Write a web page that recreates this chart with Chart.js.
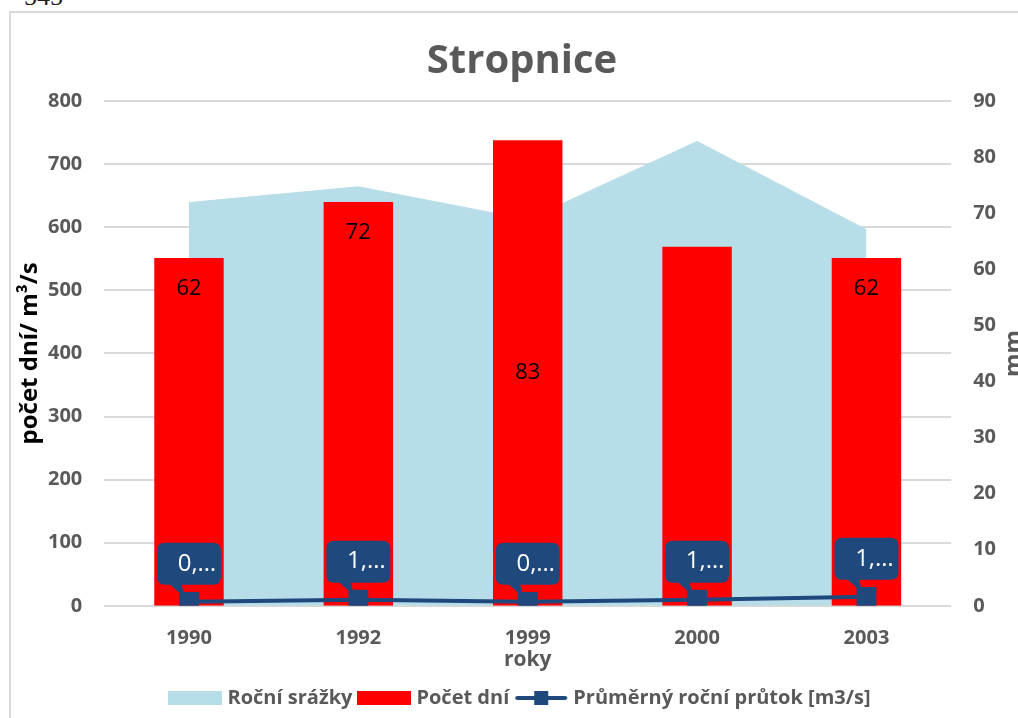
<!DOCTYPE html>
<html>
<head>
<meta charset="utf-8">
<script src="https://cdn.jsdelivr.net/npm/chart.js@4/dist/chart.umd.min.js"></script>
<style>
  html, body { margin: 0; padding: 0; background: #fff; overflow: hidden; }
  #wrap { position: relative; width: 1018px; height: 718px; }
  #frame { position: absolute; left: 9px; top: 11px; width: 1100px; height: 800px; border: 2px solid #d9d9d9; box-sizing: border-box; }
  #page { position: absolute; left: 24px; top: -18px; font: 26px "Liberation Serif", serif; color: #222; }
  #chart1 { position: absolute; left: 0; top: 0; }
</style>
</head>
<body>
<div id="wrap">
  <div id="frame"></div>
  <div id="page">545</div>
  <canvas id="chart1" width="1018" height="718"></canvas>
</div>
<script>
const years = ['1990', '1992', '1999', '2000', '2003'];
const rocniSrazky = [639, 664, 612, 736, 596];
const pocetDni = [62, 72, 83, 64, 62];
const prutok = [0.7, 1.1, 0.7, 1.1, 1.6];

// popisky tak, jak jsou v grafu (2000 nema zadny)
const pocetDniLabels = ['62', '72', '83', '', '62'];
const barLabelPos = ['end', 'end', 'center', 'end', 'end'];
const prutokLabels = ['0,…', '1,…', '0,…', '1,…', '1,…'];

const FONT = "'Open Sans', sans-serif";
const GREY = '#595959';
const BLUE = '#1F497D';
const AREA = '#B7DDE8';
const RED = '#FF0000';

const makeIcon = (draw) => {
  const c = document.createElement('canvas');
  c.width = 54;
  c.height = 16;
  draw(c.getContext('2d'));
  return c;
};

const icons = [
  makeIcon(g => { g.fillStyle = AREA; g.fillRect(0, 1, 54, 14); }),
  makeIcon(g => { g.fillStyle = RED; g.fillRect(0, 1, 54, 14); }),
  makeIcon(g => {
    g.strokeStyle = BLUE; g.lineWidth = 4; g.lineCap = 'round';
    g.beginPath(); g.moveTo(3, 8); g.lineTo(51, 8); g.stroke();
    g.fillStyle = BLUE; g.fillRect(20, 1, 14, 14);
  })
];

const roundRect = (ctx, x, y, w, h, r) => {
  ctx.beginPath();
  ctx.moveTo(x + r, y);
  ctx.lineTo(x + w - r, y);
  ctx.quadraticCurveTo(x + w, y, x + w, y + r);
  ctx.lineTo(x + w, y + h - r);
  ctx.quadraticCurveTo(x + w, y + h, x + w - r, y + h);
  ctx.lineTo(x + r, y + h);
  ctx.quadraticCurveTo(x, y + h, x, y + h - r);
  ctx.lineTo(x, y + r);
  ctx.quadraticCurveTo(x, y, x + r, y);
  ctx.closePath();
};

const labelsPlugin = {
  id: 'labelsPlugin',
  afterDatasetsDraw(chart) {
    const ctx = chart.ctx;
    ctx.save();

    // popisky sloupcu
    const bars = chart.getDatasetMeta(1).data;
    ctx.font = '22px ' + FONT;
    ctx.fillStyle = '#000';
    ctx.textAlign = 'center';
    ctx.textBaseline = 'middle';
    bars.forEach((bar, i) => {
      if (!pocetDniLabels[i]) return;
      const y = barLabelPos[i] === 'center' ? (bar.y + bar.base) / 2 : bar.y + 31;
      ctx.fillText(pocetDniLabels[i], bar.x, y);
    });

    // bubliny u prutoku
    const pts = chart.getDatasetMeta(2).data;
    pts.forEach((p, i) => {
      const w = 64, h = 42;
      const bx = p.x - w / 2;
      const by = p.y - 17 - h;
      ctx.fillStyle = BLUE;
      roundRect(ctx, bx, by, w, h, 8);
      ctx.fill();
      ctx.beginPath();
      ctx.moveTo(p.x - 21, by + h - 2);
      ctx.lineTo(p.x - 8, by + h - 2);
      ctx.lineTo(p.x - 4, p.y - 4);
      ctx.closePath();
      ctx.fill();
      ctx.fillStyle = '#fff';
      ctx.font = '24px ' + FONT;
      ctx.fillText(prutokLabels[i], p.x + 8, by + h / 2);
    });
    ctx.restore();
  },
  afterDraw(chart) {
    const ctx = chart.ctx;
    const mid = (chart.chartArea.top + chart.chartArea.bottom) / 2;
    ctx.save();
    ctx.textAlign = 'center';
    ctx.textBaseline = 'middle';
    ctx.font = 'bold 24px ' + FONT;
    ctx.fillStyle = '#000';
    ctx.translate(30, mid);
    ctx.rotate(-Math.PI / 2);
    ctx.fillText('počet dní/ m³/s', 0, 0);
    ctx.restore();

    ctx.save();
    ctx.textAlign = 'center';
    ctx.textBaseline = 'middle';
    ctx.font = 'bold 24px ' + FONT;
    ctx.fillStyle = GREY;
    ctx.translate(1014, mid);
    ctx.rotate(-Math.PI / 2);
    ctx.fillText('mm', 0, 0);
    ctx.restore();
  }
};

const ctx1 = document.querySelector('#chart1');
const defaultLabels = Chart.defaults.plugins.legend.labels.generateLabels;

const chart1 = new Chart(ctx1, {
  type: 'bar',
  data: {
    labels: years,
    datasets: [{
      type: 'line',
      label: 'Roční srážky',
      data: rocniSrazky,
      yAxisID: 'y',
      fill: 'origin',
      backgroundColor: AREA,
      borderColor: AREA,
      borderWidth: 1,
      pointRadius: 0,
      tension: 0,
      order: 3
    },
    {
      type: 'bar',
      label: 'Počet dní',
      data: pocetDni,
      yAxisID: 'y1',
      backgroundColor: RED,
      categoryPercentage: 1,
      barPercentage: 0.41,
      order: 2
    },
    {
      type: 'line',
      label: 'Průměrný roční průtok [m3/s]',
      data: prutok,
      yAxisID: 'y1',
      borderColor: BLUE,
      borderWidth: 4,
      pointStyle: 'rect',
      pointRadius: 14,
      pointBackgroundColor: BLUE,
      pointBorderWidth: 0,
      tension: 0,
      order: 1
    }
    ]
  },
  options: {
    responsive: false,
    animation: false,
    layout: {
      padding: { left: 26, right: 0, top: 14, bottom: 0 }
    },
    plugins: {
      tooltip: { enabled: false },
      title: {
        display: true,
        text: 'Stropnice',
        color: GREY,
        font: { family: FONT, size: 40, weight: 'bold' },
        padding: { top: 24, bottom: 15 }
      },
      legend: {
        position: 'bottom',
        reverse: true,
        labels: {
          usePointStyle: true,
          pointStyleWidth: 44,
          color: GREY,
          padding: 10,
          font: { family: FONT, size: 20, weight: 'bold' },
          generateLabels: (chart) => {
            const items = defaultLabels(chart);
            items.forEach(it => { it.pointStyle = icons[it.datasetIndex]; });
            return items;
          }
        }
      }
    },
    scales: {
      x: {
        grid: { display: false, drawTicks: false },
        border: { display: false },
        ticks: {
          color: GREY,
          padding: 20,
          font: { family: FONT, size: 20, weight: 'bold' }
        },
        title: {
          display: true,
          text: 'roky',
          color: GREY,
          font: { family: FONT, size: 21, weight: 'bold' },
          padding: { top: -22, bottom: 5 }
        }
      },
      y: {
        type: 'linear',
        position: 'left',
        min: 0,
        max: 800,
        grid: { color: '#d9d9d9', lineWidth: 2, drawTicks: false },
        border: { display: false },
        ticks: {
          stepSize: 100,
          color: GREY,
          padding: 22,
          font: { family: FONT, size: 20, weight: 'bold' }
        }
      },
      y1: {
        type: 'linear',
        position: 'right',
        min: 0,
        max: 90,
        grid: { display: false, drawTicks: false },
        border: { display: false },
        ticks: {
          stepSize: 10,
          color: GREY,
          padding: 22,
          font: { family: FONT, size: 20, weight: 'bold' }
        }
      }
    }
  },
  plugins: [labelsPlugin]
});
</script>
</body>
</html>
